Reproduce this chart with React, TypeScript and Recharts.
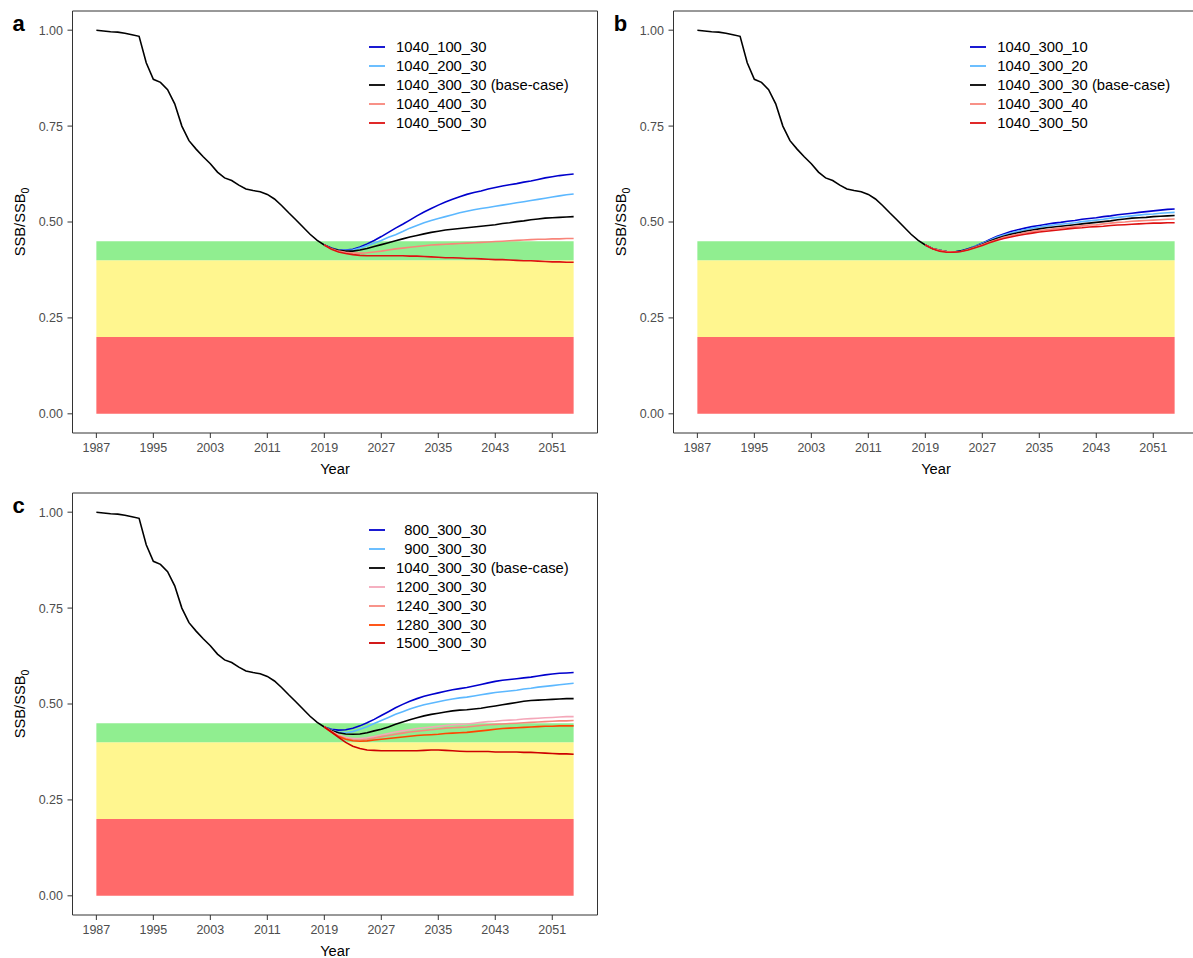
import React from 'react';
import { LineChart, Line, XAxis, YAxis, ReferenceArea, Legend } from 'recharts';

const FONT = "'Liberation Sans', Arial, Helvetica, sans-serif";

// observed period
const HIST_YEARS = [
  1987, 1988, 1989, 1990, 1991, 1992, 1993, 1994, 1995, 1996, 1997,
  1998, 1999, 2000, 2001, 2002, 2003, 2004, 2005, 2006, 2007, 2008,
  2009, 2010, 2011, 2012, 2013, 2014, 2015, 2016, 2017, 2018, 2019,
];
const HIST_SSB = [
  1.0, 0.998, 0.996, 0.995, 0.992, 0.988, 0.984, 0.915, 0.872, 0.864, 0.845,
  0.808, 0.75, 0.712, 0.69, 0.67, 0.652, 0.63, 0.615, 0.608, 0.596, 0.586,
  0.582, 0.579, 0.572, 0.56, 0.543, 0.524, 0.506, 0.487, 0.468, 0.452, 0.44,
];

// projection period
const PROJ_YEARS = [
  2019, 2020, 2021, 2022, 2023, 2024, 2025, 2026, 2027, 2028, 2029, 2030,
  2031, 2032, 2033, 2034, 2035, 2036, 2037, 2038, 2039, 2040, 2041, 2042,
  2043, 2044, 2045, 2046, 2047, 2048, 2049, 2050, 2051, 2052, 2053, 2054,
];

// panel a
const A_100 = [
  0.44, 0.432, 0.427, 0.427, 0.429, 0.435, 0.443, 0.452, 0.462, 0.473, 0.484, 0.494,
  0.505, 0.516, 0.526, 0.535, 0.544, 0.552, 0.559, 0.566, 0.572, 0.577, 0.581, 0.586,
  0.59, 0.594, 0.597, 0.6, 0.604, 0.607, 0.611, 0.615, 0.618, 0.621, 0.623, 0.625,
];
const A_200 = [
  0.44, 0.431, 0.427, 0.426, 0.427, 0.432, 0.438, 0.445, 0.452, 0.46, 0.467, 0.475,
  0.484, 0.491, 0.498, 0.504, 0.509, 0.514, 0.519, 0.524, 0.528, 0.532, 0.535, 0.538,
  0.541, 0.544, 0.547, 0.55, 0.553, 0.556, 0.559, 0.562, 0.565, 0.568, 0.571, 0.573,
];
const A_300 = [
  0.44, 0.431, 0.426, 0.424, 0.424, 0.427, 0.431, 0.436, 0.441, 0.446, 0.451, 0.456,
  0.461, 0.465, 0.469, 0.473, 0.476, 0.479, 0.481, 0.483, 0.485, 0.487, 0.489, 0.491,
  0.493, 0.496, 0.498, 0.501, 0.503, 0.506, 0.508, 0.51, 0.511, 0.512, 0.513, 0.514,
];
const A_400 = [
  0.44, 0.43, 0.424, 0.421, 0.419, 0.419, 0.42, 0.422, 0.424, 0.427, 0.43, 0.432,
  0.434, 0.436, 0.438, 0.44, 0.441, 0.442, 0.443, 0.444, 0.445, 0.446, 0.447, 0.448,
  0.449, 0.45, 0.451, 0.452, 0.453, 0.454, 0.455, 0.455, 0.456, 0.456, 0.457, 0.457,
];
const A_500 = [
  0.44, 0.429, 0.422, 0.418, 0.415, 0.413, 0.412, 0.412, 0.412, 0.412, 0.412, 0.412,
  0.411, 0.411, 0.41, 0.409, 0.408, 0.407, 0.407, 0.406, 0.405, 0.405, 0.404, 0.403,
  0.402, 0.402, 0.401, 0.4, 0.399, 0.399, 0.398, 0.397, 0.396, 0.396, 0.395, 0.395,
];

// panel b
const B_10 = [
  0.44, 0.431, 0.426, 0.423, 0.422, 0.425, 0.43, 0.437, 0.445, 0.454, 0.462, 0.469,
  0.475, 0.48, 0.484, 0.488, 0.491, 0.494, 0.497, 0.499, 0.502, 0.504, 0.507, 0.509,
  0.511, 0.514, 0.516, 0.519, 0.521, 0.523, 0.525, 0.527, 0.529, 0.531, 0.533, 0.534,
];
const B_20 = [
  0.44, 0.431, 0.426, 0.423, 0.422, 0.424, 0.429, 0.436, 0.444, 0.452, 0.46, 0.466,
  0.471, 0.476, 0.48, 0.484, 0.487, 0.49, 0.492, 0.494, 0.496, 0.498, 0.501, 0.503,
  0.505, 0.507, 0.51, 0.512, 0.514, 0.516, 0.518, 0.52, 0.521, 0.523, 0.524, 0.525,
];
const B_30 = [
  0.44, 0.431, 0.426, 0.423, 0.422, 0.424, 0.429, 0.435, 0.442, 0.45, 0.457, 0.463,
  0.468, 0.472, 0.476, 0.479, 0.482, 0.485, 0.487, 0.489, 0.491, 0.493, 0.495, 0.497,
  0.499, 0.501, 0.503, 0.506, 0.508, 0.51, 0.511, 0.512, 0.514, 0.515, 0.516, 0.517,
];
const B_40 = [
  0.44, 0.431, 0.426, 0.423, 0.422, 0.423, 0.428, 0.434, 0.441, 0.448, 0.454, 0.46,
  0.464, 0.468, 0.472, 0.475, 0.478, 0.48, 0.482, 0.484, 0.486, 0.488, 0.49, 0.492,
  0.493, 0.495, 0.497, 0.499, 0.5, 0.502, 0.503, 0.504, 0.505, 0.506, 0.507, 0.508,
];
const B_50 = [
  0.44, 0.43, 0.424, 0.421, 0.421, 0.423, 0.427, 0.433, 0.439, 0.446, 0.452, 0.457,
  0.461, 0.465, 0.468, 0.471, 0.474, 0.476, 0.478, 0.48, 0.482, 0.484, 0.485, 0.487,
  0.488, 0.489, 0.491, 0.492, 0.493, 0.494, 0.495, 0.496, 0.497, 0.497, 0.498, 0.498,
];

// panel c
const C_800 = [
  0.44, 0.434, 0.432, 0.433, 0.437, 0.443, 0.451, 0.46, 0.47, 0.48, 0.49, 0.499,
  0.507, 0.514, 0.52, 0.525, 0.529, 0.533, 0.537, 0.54, 0.543, 0.547, 0.551, 0.555,
  0.559, 0.562, 0.564, 0.566, 0.568, 0.57, 0.573, 0.576, 0.578, 0.58, 0.581, 0.582,
];
const C_900 = [
  0.44, 0.432, 0.426, 0.425, 0.428, 0.434, 0.441, 0.449, 0.457, 0.465, 0.473, 0.48,
  0.487, 0.493, 0.498, 0.502, 0.506, 0.51, 0.513, 0.516, 0.518, 0.521, 0.524, 0.527,
  0.53, 0.532, 0.534, 0.536, 0.539, 0.541, 0.544, 0.546, 0.548, 0.55, 0.552, 0.554,
];
const C_1040 = [
  0.44, 0.431, 0.425, 0.422, 0.421, 0.422, 0.425, 0.43, 0.434, 0.44, 0.447, 0.453,
  0.459, 0.464, 0.469, 0.473, 0.476, 0.479, 0.482, 0.484, 0.485, 0.487, 0.489, 0.492,
  0.495, 0.498, 0.501, 0.504, 0.507, 0.509, 0.51, 0.511, 0.512, 0.513, 0.514, 0.514,
];
const C_1200 = [
  0.44, 0.429, 0.419, 0.413, 0.41, 0.41, 0.412, 0.415, 0.419, 0.423, 0.427, 0.43,
  0.433, 0.436, 0.438, 0.44, 0.442, 0.444, 0.446, 0.447, 0.448, 0.45, 0.452, 0.454,
  0.455, 0.457, 0.458, 0.459, 0.461, 0.462, 0.463, 0.464, 0.465, 0.466, 0.467, 0.467,
];
const C_1240 = [
  0.44, 0.428, 0.417, 0.41, 0.407, 0.406, 0.408, 0.411, 0.415, 0.418, 0.421, 0.424,
  0.427, 0.429, 0.431, 0.433, 0.435, 0.437, 0.438, 0.439, 0.44, 0.442, 0.444, 0.446,
  0.447, 0.448, 0.449, 0.45, 0.451, 0.452, 0.453, 0.454, 0.455, 0.456, 0.456, 0.457,
];
const C_1280 = [
  0.44, 0.427, 0.415, 0.408, 0.404, 0.403, 0.404, 0.406, 0.408, 0.41, 0.412, 0.414,
  0.416, 0.418, 0.419, 0.42, 0.421, 0.423, 0.424, 0.425, 0.426, 0.428, 0.43, 0.432,
  0.434, 0.436, 0.437, 0.438, 0.439, 0.44, 0.441, 0.442, 0.442, 0.443, 0.443, 0.443,
];
const C_1500 = [
  0.44, 0.427, 0.413, 0.4, 0.39, 0.384, 0.38, 0.379, 0.378, 0.378, 0.378, 0.378,
  0.378, 0.378, 0.379, 0.38, 0.38, 0.379, 0.378, 0.377, 0.376, 0.376, 0.376, 0.376,
  0.375, 0.375, 0.375, 0.375, 0.374, 0.374, 0.373, 0.372, 0.371, 0.37, 0.37, 0.369,
];

const X_TICKS = [1987, 1995, 2003, 2011, 2019, 2027, 2035, 2043, 2051];
const Y_TICKS = [0, 0.25, 0.5, 0.75, 1];

// status zones
const ZONES = [
  { from: 0, to: 0.2, color: '#FF6A6A' },
  { from: 0.2, to: 0.4, color: '#FFF68F' },
  { from: 0.4, to: 0.45, color: '#90EE90' },
];

type Series = { key: string; label: string; color: string; values: number[] };

const PANEL_A: Series[] = [
  { key: 's100', label: '1040_100_30', color: '#0000CD', values: A_100 },
  { key: 's200', label: '1040_200_30', color: '#5CB8FF', values: A_200 },
  { key: 's300', label: '1040_300_30 (base-case)', color: '#000000', values: A_300 },
  { key: 's400', label: '1040_400_30', color: '#F8857A', values: A_400 },
  { key: 's500', label: '1040_500_30', color: '#DD1111', values: A_500 },
];
const PANEL_B: Series[] = [
  { key: 's10', label: '1040_300_10', color: '#0000CD', values: B_10 },
  { key: 's20', label: '1040_300_20', color: '#5CB8FF', values: B_20 },
  { key: 's30', label: '1040_300_30 (base-case)', color: '#000000', values: B_30 },
  { key: 's40', label: '1040_300_40', color: '#F8857A', values: B_40 },
  { key: 's50', label: '1040_300_50', color: '#DD1111', values: B_50 },
];
const PANEL_C: Series[] = [
  { key: 's800', label: '  800_300_30', color: '#0000CD', values: C_800 },
  { key: 's900', label: '  900_300_30', color: '#5CB8FF', values: C_900 },
  { key: 's1040', label: '1040_300_30 (base-case)', color: '#000000', values: C_1040 },
  { key: 's1200', label: '1200_300_30', color: '#F4A7B9', values: C_1200 },
  { key: 's1240', label: '1240_300_30', color: '#F8877D', values: C_1240 },
  { key: 's1280', label: '1280_300_30', color: '#FF4500', values: C_1280 },
  { key: 's1500', label: '1500_300_30', color: '#CD0000', values: C_1500 },
];

const buildRows = (series: Series[]) => {
  const years = Array.from(new Set([...HIST_YEARS, ...PROJ_YEARS]));
  return years.map((year) => {
    const row: any = { year };
    const h = HIST_YEARS.indexOf(year);
    if (h >= 0) row.hist = HIST_SSB[h];
    const p = PROJ_YEARS.indexOf(year);
    if (p >= 0) series.forEach((s) => { row[s.key] = s.values[p]; });
    return row;
  });
};

const W = 600;
const H = 480;

const Panel = ({ letter, series, left, top, legendTop }: { letter: string; series: Series[]; left: number; top: number; legendTop: number }) => {
  const data = buildRows(series);
  return (
    <div style={{ position: 'absolute', left, top, width: W, height: H }}>
      <LineChart width={W} height={H} data={data} margin={{ top: 11, right: 2.5, bottom: 0, left: 0 }}>
        <XAxis
          dataKey="year"
          type="number"
          domain={[1983.65, 2057.35]}
          ticks={X_TICKS}
          allowDataOverflow
          axisLine={false}
          tickLine={{ stroke: '#333' }}
          tickSize={5}
          tickMargin={5}
          height={47}
          tick={{ fill: '#4D4D4D', fontSize: 12.5, fontFamily: FONT }}
          label={{
            content: ({ viewBox }: any) => (
              <text x={viewBox.x + viewBox.width / 2} y={474} textAnchor="middle" fontSize={14.7} fontFamily={FONT} fill="#000">
                Year
              </text>
            ),
          }}
        />
        <YAxis
          type="number"
          domain={[-0.05, 1.05]}
          ticks={Y_TICKS}
          allowDataOverflow
          axisLine={false}
          tickLine={{ stroke: '#333' }}
          tickSize={5}
          tickMargin={4.5}
          width={72.5}
          tickFormatter={(v: number) => v.toFixed(2)}
          tick={{ fill: '#4D4D4D', fontSize: 12.5, fontFamily: FONT }}
          label={{
            content: ({ viewBox }: any) => (
              <text transform={`translate(25, ${viewBox.y + viewBox.height / 2}) rotate(-90)`} textAnchor="middle" fontSize={14.7} fontFamily={FONT} fill="#000">
                SSB/SSB<tspan dy={4} fontSize={10.5}>0</tspan>
              </text>
            ),
          }}
        />
        {ZONES.map((z) => (
          <ReferenceArea key={z.color} x1={1987} x2={2054} y1={z.from} y2={z.to} fill={z.color} fillOpacity={1} stroke="none" ifOverflow="visible" />
        ))}
        <Line dataKey="hist" stroke="#000" strokeWidth={1.6} dot={false} isAnimationActive={false} legendType="none" />
        {series.map((s) => (
          <Line key={s.key} dataKey={s.key} stroke={s.color} strokeWidth={1.6} dot={false} isAnimationActive={false} />
        ))}
        <ReferenceArea x1={1983.65} x2={2057.35} y1={-0.05} y2={1.05} fill="none" stroke="#333" strokeWidth={1} ifOverflow="visible" />
        <Legend
          layout="vertical"
          align="center"
          verticalAlign="middle"
          wrapperStyle={{ left: 369, top: legendTop, width: 'auto', height: 'auto' }}
          content={() => (
            <div style={{ fontFamily: FONT, fontSize: 14.8, color: '#000' }}>
              {series.map((s) => (
                <div key={s.key} style={{ display: 'flex', alignItems: 'center', height: 18.85, whiteSpace: 'pre' }}>
                  <svg width={16} height={4} style={{ marginRight: 11, display: 'block' }}>
                    <line x1={0} y1={2} x2={16} y2={2} stroke={s.color} strokeWidth={1.8} />
                  </svg>
                  <span>{s.label}</span>
                </div>
              ))}
            </div>
          )}
        />
      </LineChart>
      <div style={{ position: 'absolute', left: 12.5, top: 13, fontFamily: FONT, fontWeight: 'bold', fontSize: 22, lineHeight: '22px', color: '#000' }}>
        {letter}
      </div>
    </div>
  );
};

export default function App() {
  return (
    <div style={{ position: 'absolute', left: 0, top: 0, width: 1193, height: 958, overflow: 'hidden', background: '#fff' }}>
      <Panel letter="a" series={PANEL_A} left={0} top={0} legendTop={38} />
      <Panel letter="b" series={PANEL_B} left={601.3} top={0} legendTop={38} />
      <Panel letter="c" series={PANEL_C} left={0} top={482} legendTop={39} />
    </div>
  );
}
